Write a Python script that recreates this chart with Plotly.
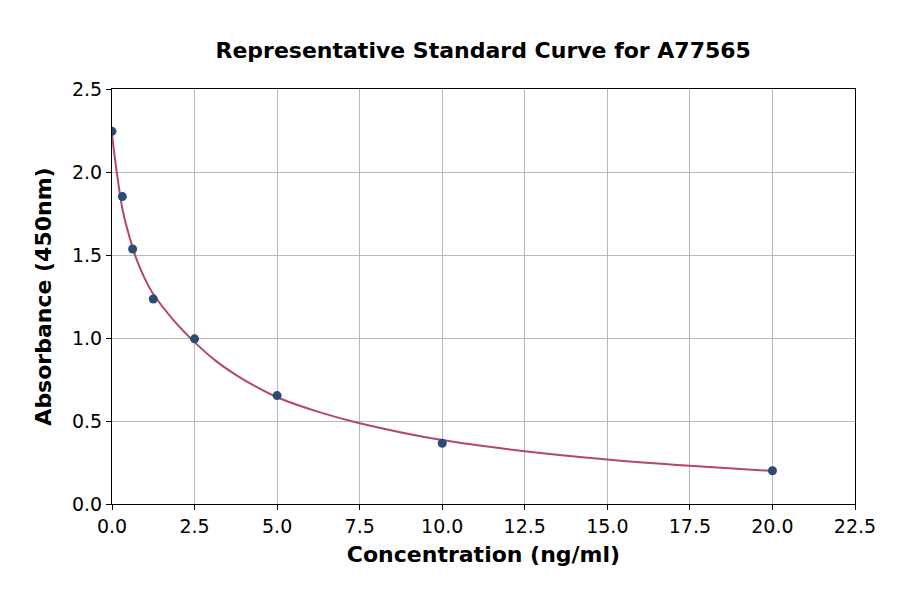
import plotly.graph_objects as go

# measured standards
conc = [0, 0.3125, 0.625, 1.25, 2.5, 5, 10, 20]
absorb = [2.245, 1.852, 1.536, 1.235, 0.995, 0.653, 0.366, 0.2]

# fitted curve
fit_x = [0, 0.07, 0.14, 0.2, 0.3125, 0.45, 0.625, 0.75, 1.0, 1.25, 1.875,
         2.5, 3.125, 3.75, 4.375, 5, 6.25, 7.5, 10, 12.5, 15, 17.5, 20]
fit_y = [2.23, 2.11, 2.005, 1.92, 1.78, 1.665, 1.545, 1.47, 1.355, 1.265,
         1.105, 0.975, 0.865, 0.778, 0.705, 0.643, 0.555, 0.487, 0.385,
         0.318, 0.268, 0.23, 0.199]

x_ticks = [0, 2.5, 5, 7.5, 10, 12.5, 15, 17.5, 20, 22.5]
y_ticks = [0, 0.5, 1.0, 1.5, 2.0, 2.5]

font = "DejaVu Sans"

fig = go.Figure()
fig.add_trace(go.Scatter(
    x=fit_x, y=fit_y, mode="lines",
    line=dict(color="#b5466c", width=2, shape="spline", smoothing=0.8),
    hoverinfo="skip",
))
fig.add_trace(go.Scatter(
    x=conc, y=absorb, mode="markers",
    marker=dict(color="#2b4b74", size=9),
))

axis_common = dict(
    showline=True, linecolor="black", linewidth=1.2, mirror=True,
    ticks="outside", ticklen=5, tickcolor="black",
    showgrid=True, gridcolor="#b8b8b8", gridwidth=1,
    zeroline=False,
    tickfont=dict(family=font, size=19, color="black"),
)

# page body adds an 8px offset, margins compensate for it
fig.update_layout(
    width=900, height=594,
    paper_bgcolor="white", plot_bgcolor="white",
    showlegend=False,
    margin=dict(l=104, r=53, t=81, b=98),
    title=dict(
        text="<b>Representative Standard Curve for A77565</b>",
        x=0.528, xanchor="center", y=0.929, yanchor="middle",
        font=dict(family=font, size=22, color="black"),
    ),
    xaxis=dict(
        axis_common, range=[0, 22.5], tickvals=x_ticks,
        ticktext=[f"{v:.1f}" for v in x_ticks],
        title=dict(text="<b>Concentration (ng/ml)</b>",
                   font=dict(family=font, size=22, color="black"),
                   standoff=10),
    ),
    yaxis=dict(
        axis_common, range=[0, 2.5], tickvals=y_ticks,
        ticktext=[f"{v:.1f}" for v in y_ticks],
        title=dict(text="<b>Absorbance (450nm)</b>",
                   font=dict(family=font, size=22, color="black"),
                   standoff=14),
    ),
)

fig.write_html("out.html")
